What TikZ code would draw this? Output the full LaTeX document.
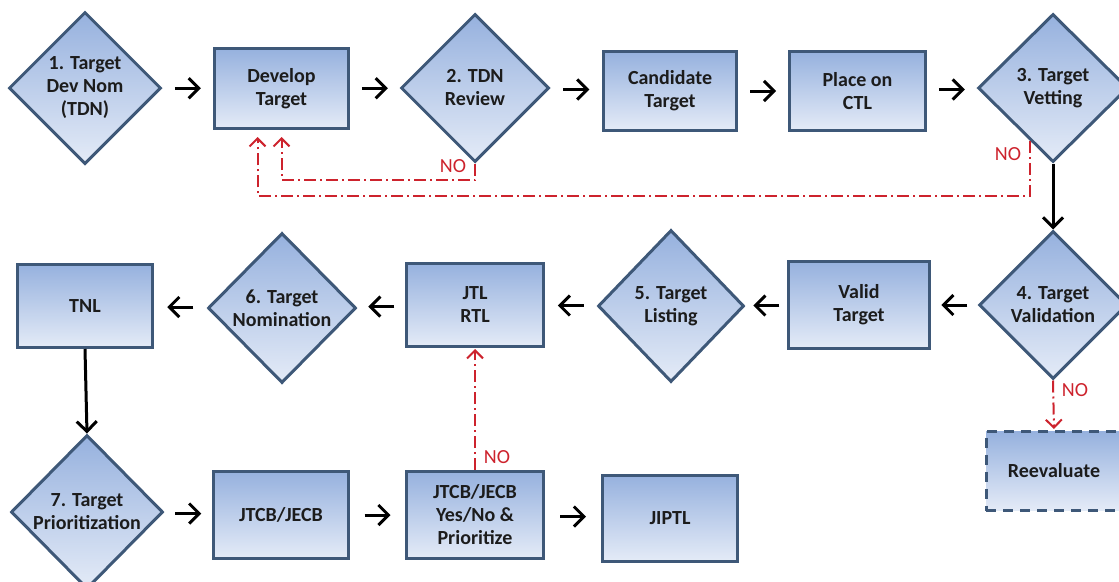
\documentclass[tikz,border=0pt]{standalone}
\usepackage{fontspec}
\setmainfont{Carlito}
\usetikzlibrary{shapes.geometric,arrows.meta,calc}

\definecolor{edgeblue}{RGB}{62,88,120}
\definecolor{filltop}{RGB}{150,177,222}
\definecolor{fillbot}{RGB}{228,235,247}
\definecolor{nored}{RGB}{205,35,45}
\definecolor{inktext}{RGB}{28,28,28}

\tikzset{
  shapebase/.style={draw=edgeblue, line width=3pt, top color=filltop, bottom color=fillbot,
    text=inktext, font=\bfseries\fontsize{20}{23}\selectfont, align=center, inner sep=0pt},
  stepbox/.style 2 args={shapebase, rectangle, minimum width=#1, minimum height=#2},
  decision/.style 2 args={shapebase, diamond, minimum width=#1, minimum height=#2},
  flow/.style={line width=3pt, black, -{Straight Barb[length=10pt,width=20pt]}},
  noline/.style={nored, line width=2pt, dash pattern=on 12pt off 4pt on 2pt off 4pt,
    -{Straight Barb[length=8pt,width=16pt]}},
  nolabel/.style={text=nored, font=\fontsize{20}{22}\selectfont, inner sep=0pt}
}

\begin{document}
\begin{tikzpicture}[x=1pt, y=-1pt]
\useasboundingbox (0,0) rectangle (1119,581);

% top row
\node[decision={152}{152}] (d1) at (85,88) {1. Target\\Dev Nom\\(TDN)};
\node[stepbox={134}{80}] (dev) at (281.5,88.5) {Develop\\Target};
\node[decision={148}{148}] (d2) at (475,88) {2. TDN\\Review};
\node[stepbox={133}{79}] (cand) at (670,91) {Candidate\\Target};
\node[stepbox={136}{79}] (place) at (857.5,91) {Place on\\CTL};
\node[decision={150}{148}] (d3) at (1053,88) {3. Target\\Vetting};

% middle row
\node[decision={148}{148}] (d4) at (1053,305) {4. Target\\Validation};
\node[stepbox={141}{87}] (valid) at (859,305) {Valid\\Target};
\node[decision={146}{152}] (d5) at (671,306) {5. Target\\Listing};
\node[stepbox={137}{83}] (jtl) at (475,305) {JTL\\RTL};
\node[decision={148}{150}] (d6) at (282,308) {6. Target\\Nomination};
\node[stepbox={135}{83}] (tnl) at (85,306) {TNL};

% bottom row
\node[decision={152}{154}] (d7) at (87,512) {7. Target\\Prioritization};
\node[stepbox={135}{87}] (jtcb) at (281,515) {JTCB/JECB};
\node[stepbox={137}{87}] (yn) at (475,515) {JTCB/JECB\\Yes/No \&\\Prioritize};
\node[stepbox={135}{86}] (jiptl) at (670,518) {JIPTL};
\node[stepbox={136}{79}, dash pattern=on 10pt off 7pt] (re) at (1054,471) {Reevaluate};

% main flow, top row
\draw[flow] ($(d1.east)!.5!(dev.west)$) +(-13,0) -- +(13,0);
\draw[flow] ($(dev.east)!.5!(d2.west)$) +(-13,0) -- +(13,0);
\draw[flow] ($(d2.east)!.5!(cand.west)$) +(-13,0) -- +(13,0);
\draw[flow] ($(cand.east)!.5!(place.west)$) +(-13,0) -- +(13,0);
\draw[flow] ($(place.east)!.5!(d3.west)$) +(-13,0) -- +(13,0);
\draw[flow] (d3.south) -- (d4.north);

% main flow, middle row (right to left)
\draw[flow] ($(d4.west)!.5!(valid.east)$) +(13,0) -- +(-13,0);
\draw[flow] ($(valid.west)!.5!(d5.east)$) +(13,0) -- +(-13,0);
\draw[flow] ($(d5.west)!.5!(jtl.east)$) +(13,0) -- +(-13,0);
\draw[flow] ($(jtl.west)!.5!(d6.east)$) +(13,0) -- +(-13,0);
\draw[flow] ($(d6.west)!.5!(tnl.east)$) +(13,0) -- +(-13,0);
\draw[flow] (tnl.south) -- (d7.north);

% main flow, bottom row
\draw[flow] ($(d7.east)!.5!(jtcb.west)$) +(-13,0) -- +(13,0);
\draw[flow] ($(jtcb.east)!.5!(yn.west)$) +(-13,0) -- +(13,0);
\draw[flow] ($(yn.east)!.5!(jiptl.west)$) +(-13,0) -- +(13,0);

% rejection paths
\coordinate (vetno) at ($(d3.south)!0.3!(d3.west)$);
\draw[noline, shorten >=7pt] (d2.south) -- ++(0,16.5) -| (dev.south);
\draw[noline, shorten >=7pt] (vetno) -- ++(0,55) -| ([xshift=-24pt]dev.south);
\draw[noline, shorten >=1pt] (d4.south) -- (re.north);
\draw[noline, shorten >=1pt] (yn.north) -- (jtl.south);

\node[nolabel] (no1) at (453,166) {NO};
\node[nolabel] (no2) at (1008,154) {NO};
\node[nolabel] (no3) at (1075,390) {NO};
\node[nolabel] (no4) at (497,457) {NO};
\end{tikzpicture}
\end{document}
